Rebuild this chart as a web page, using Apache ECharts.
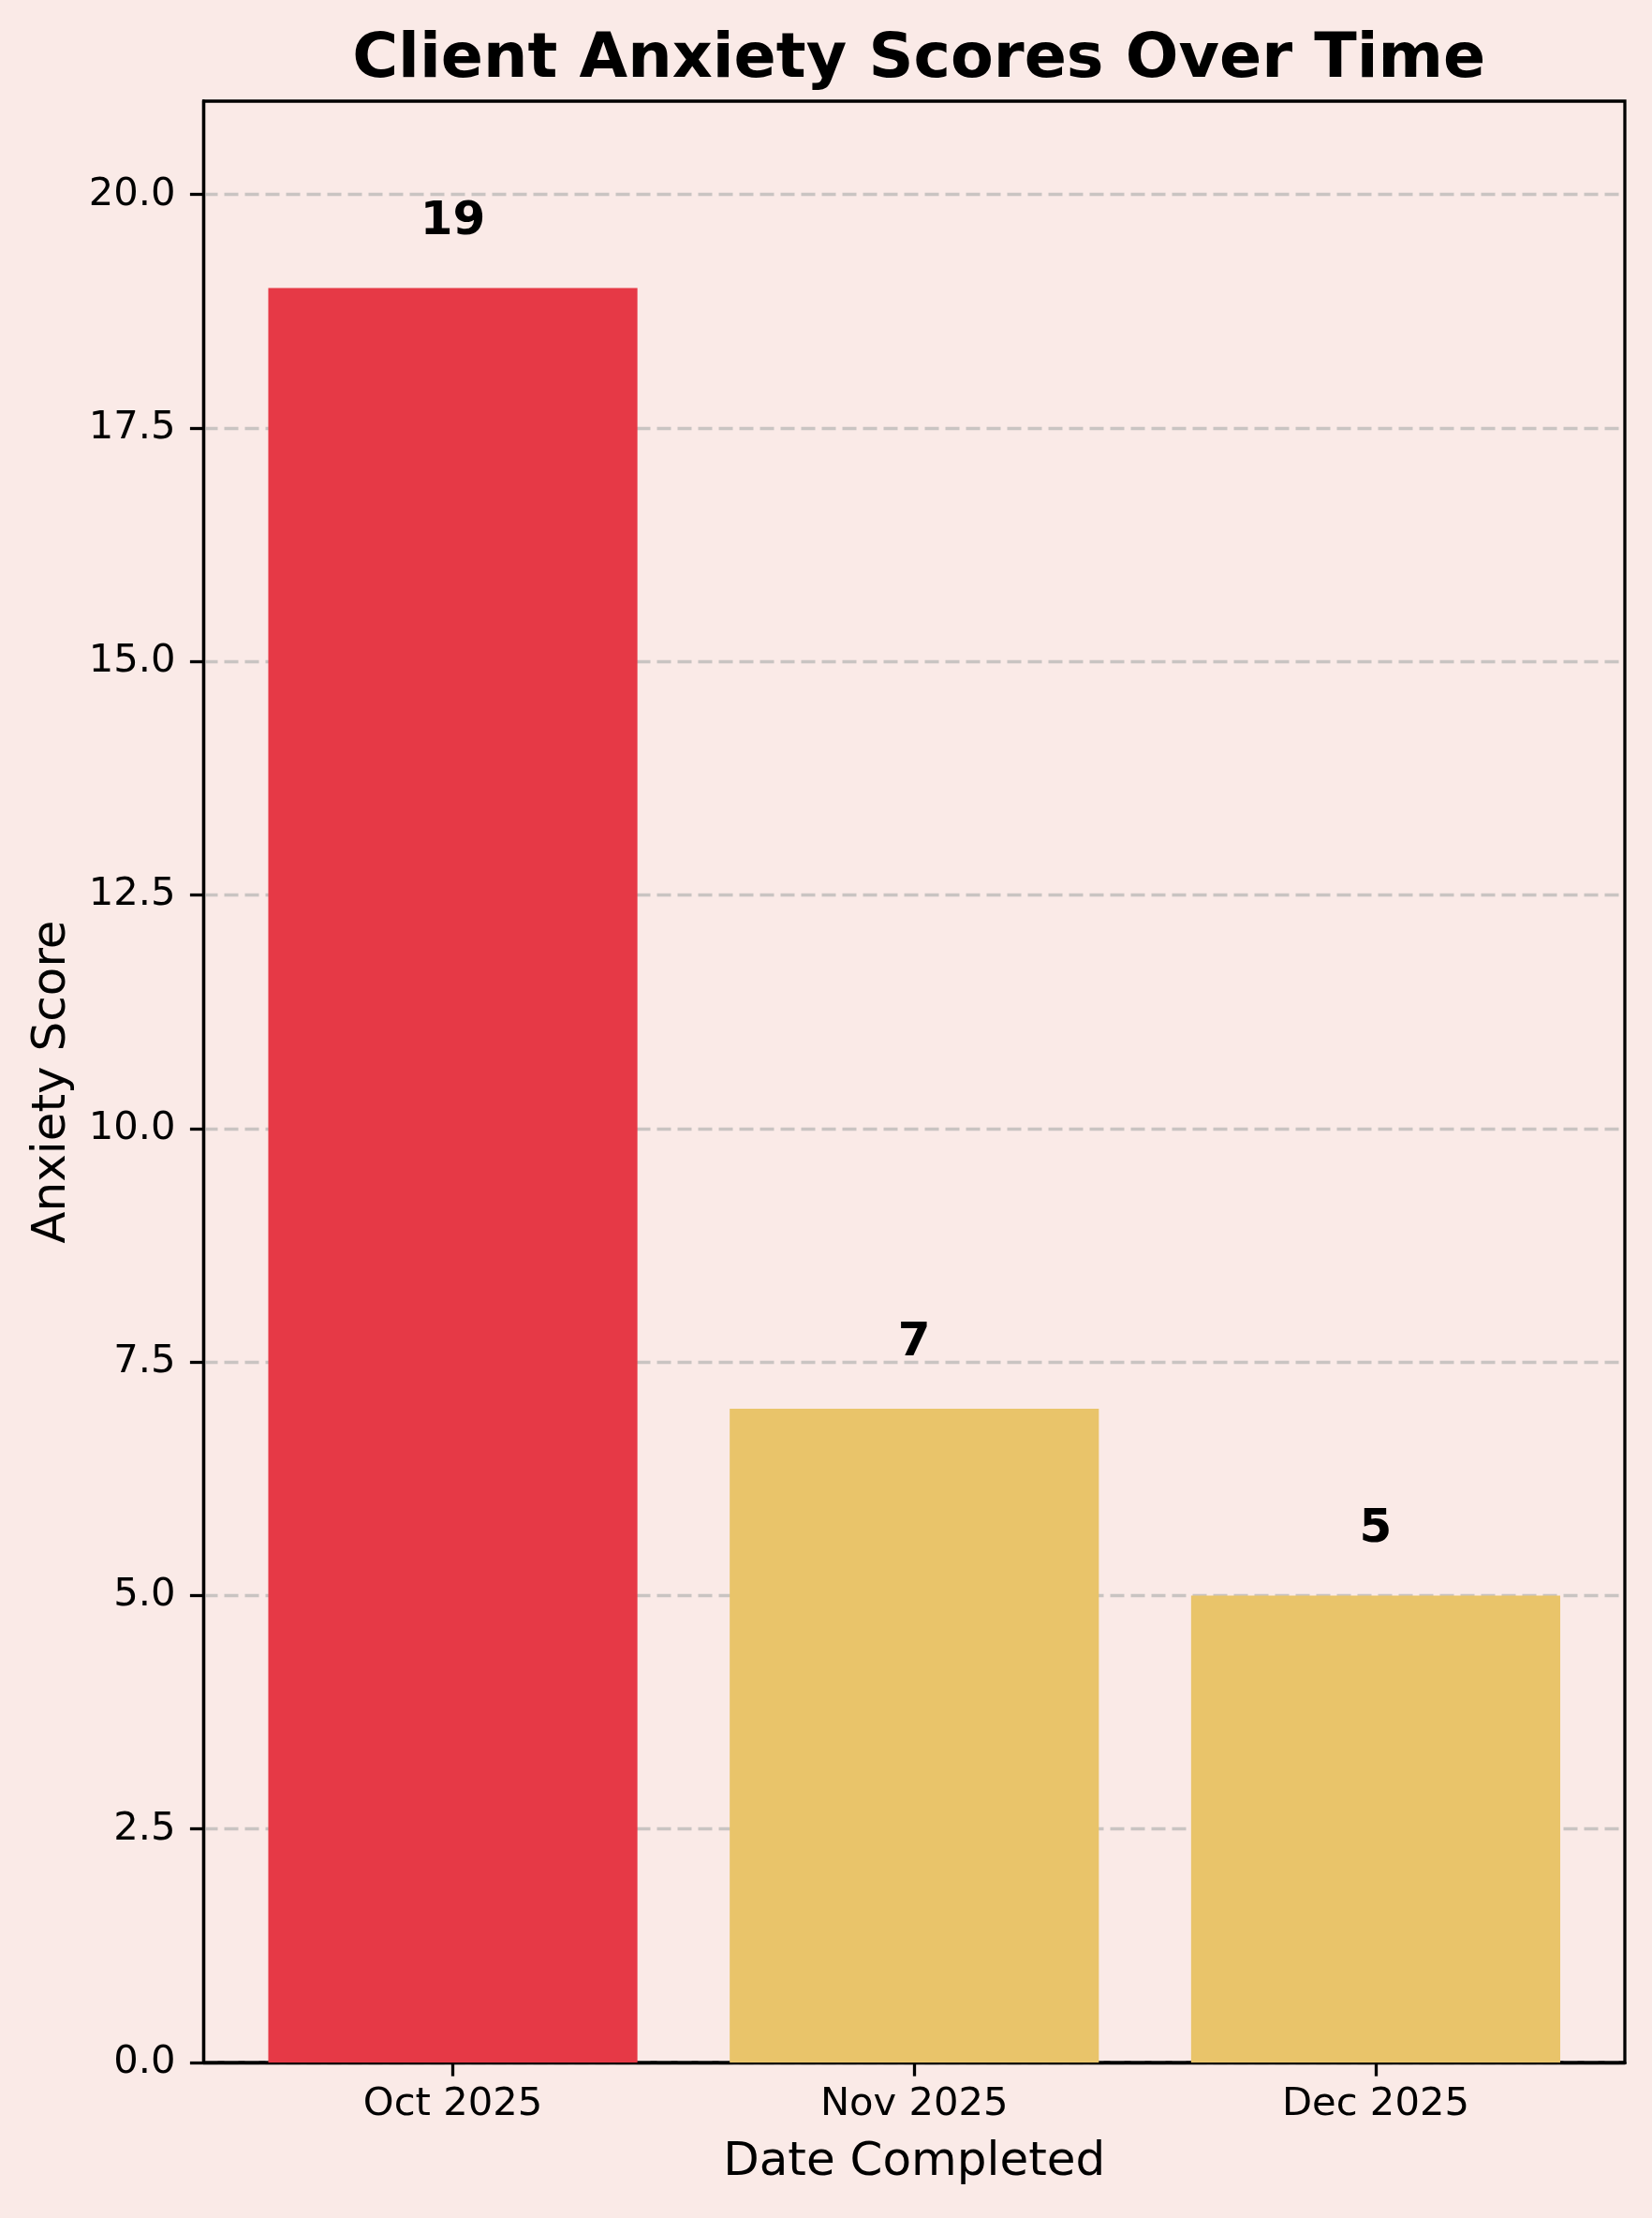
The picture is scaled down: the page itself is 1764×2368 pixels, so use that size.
<!DOCTYPE html>
<html>
<head>
<meta charset="utf-8">
<script src="https://cdn.jsdelivr.net/npm/echarts@6/dist/echarts.min.js"></script>
<style>
html,body{margin:0;padding:0;background:#FAEAE7;}
#chart{width:1764px;height:2368px;}
</style>
</head>
<body>
<div id="chart"></div>
<script>
const categories = ['Oct 2025', 'Nov 2025', 'Dec 2025'];
const scores = [19, 7, 5];
const barColors = ['#E63946', '#E9C46A', '#E9C46A'];
const yTicks = [0, 2.5, 5, 7.5, 10, 12.5, 15, 17.5, 20];

const FONT = 'DejaVu Sans';
const gridLeft = 217.5, gridRight = 29, gridTop = 108, gridBottom = 166;
const xMin = -0.54, xMax = 2.54;
const plotW = 1764 - gridLeft - gridRight;
const barW = plotW / (xMax - xMin) * 0.8;

const chart = echarts.init(document.getElementById('chart'), null, {renderer: 'canvas'});
chart.setOption({
  backgroundColor: '#FAEAE7',
  animation: false,
  title: {
    text: 'Client Anxiety Scores Over Time',
    left: gridLeft + plotW / 2,
    textAlign: 'center',
    top: 26,
    textStyle: {fontFamily: FONT, fontSize: 66.7, fontWeight: 'bold', color: '#000'}
  },
  grid: {
    left: gridLeft, right: gridRight, top: gridTop, bottom: gridBottom,
    show: true, borderColor: '#000', borderWidth: 3.3, backgroundColor: 'transparent'
  },
  xAxis: {
    type: 'value', min: xMin, max: xMax,
    name: 'Date Completed', nameLocation: 'middle', nameGap: 82,
    nameTextStyle: {fontFamily: FONT, fontSize: 50, color: '#000'},
    axisLine: {show: true, onZero: false, lineStyle: {color: '#000', width: 3.3}},
    axisTick: {show: true, length: 14.6, lineStyle: {color: '#000', width: 3.3}, customValues: categories.map((c, i) => i)},
    axisLabel: {
      fontFamily: FONT, fontSize: 41.7, color: '#000', margin: 24,
      customValues: categories.map((c, i) => i),
      formatter: v => categories[Math.round(v)] || ''
    },
    splitLine: {show: false}
  },
  yAxis: {
    type: 'value', min: 0, max: 21,
    name: 'Anxiety Score', nameLocation: 'middle', nameGap: 136, nameRotate: 90,
    nameTextStyle: {fontFamily: FONT, fontSize: 50, color: '#000'},
    axisLine: {show: true, onZero: false, lineStyle: {color: '#000', width: 3.3}},
    axisTick: {show: true, length: 14.6, lineStyle: {color: '#000', width: 3.3}, customValues: yTicks},
    axisLabel: {
      fontFamily: FONT, fontSize: 41.7, color: '#000', margin: 30,
      customValues: yTicks,
      formatter: v => v.toFixed(1)
    },
    splitLine: {show: true, lineStyle: {color: '#c9c4c2', width: 3.3, type: [15, 7]}}
  },
  series: [{
    type: 'bar',
    barWidth: barW,
    data: scores.map((v, i) => ({value: [i, v], itemStyle: {color: barColors[i]}})),
    label: {
      show: true, position: 'top', distance: 45,
      fontFamily: FONT, fontSize: 50, fontWeight: 'bold', color: '#000',
      formatter: p => String(p.value[1])
    }
  }]
});
</script>
</body>
</html>
